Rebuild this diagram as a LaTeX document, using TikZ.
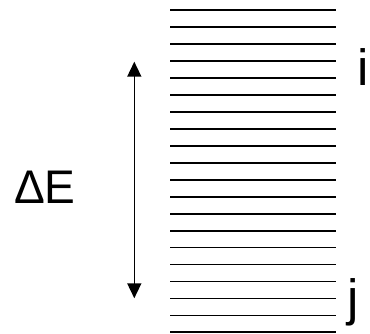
\documentclass[tikz,border=0pt]{standalone}
\usepackage{fontspec}
\setmainfont{Liberation Sans}
\usetikzlibrary{arrows.meta}
\begin{document}
\begin{tikzpicture}[x=1pt,y=-1pt,
  level/.style={line width=1.8pt,black},
  gap/.style={line width=1.6pt,{Triangle[length=15pt,width=14pt]}-{Triangle[length=15pt,width=14pt]}},
  bigtext/.style={inner sep=0pt,anchor=base west,font=\fontsize{51}{51}\selectfont},
  etext/.style={inner sep=0pt,anchor=base west,font=\fontsize{36.3}{40}\selectfont}]
\useasboundingbox (0,0) rectangle (370,334);
\foreach \k in {0,...,19}{
  \coordinate (L\k a) at (170,10.3+16.95*\k);
  \coordinate (L\k b) at (335.7,10.3+16.95*\k);
  \draw[level] (L\k a) -- (L\k b);
}
\coordinate (top) at (134.3,61.7);
\coordinate (bot) at (134.3,298.3);
\draw[gap] (top) -- (bot);
\node[etext] (dE) at (14,203.3) {\scalebox{1.27}[1.3]{ΔE}};
\node[bigtext] (i) at (357.6,86) {i};
\node[bigtext] (j) at (347.6,316) {j};
\end{tikzpicture}
\end{document}
